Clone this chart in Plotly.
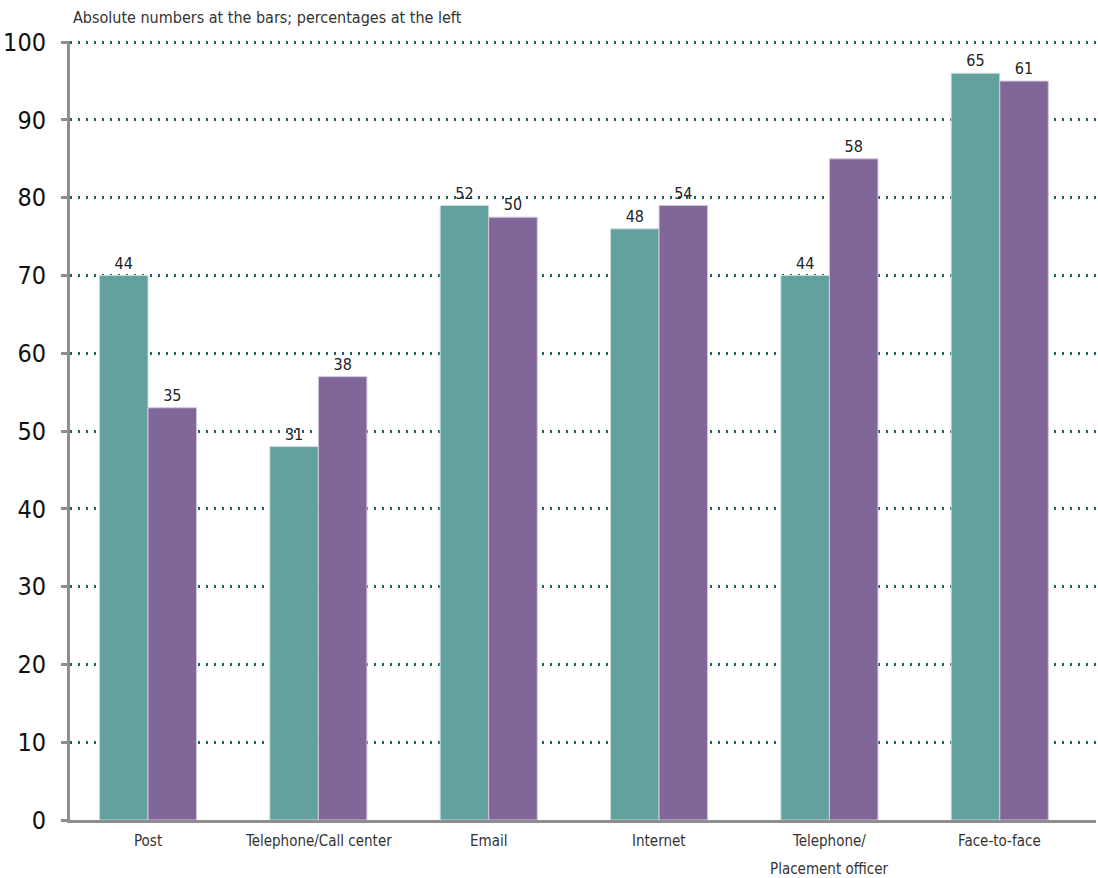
import plotly.graph_objects as go

# Contact channels (x categories); multi-line labels split on "\n"
categories = ["Post", "Telephone/Call center", "Email", "Internet",
              "Telephone/\nPlacement officer", "Face-to-face"]

# Percentages (bar heights) and absolute counts (labels above the bars)
teal_pct = [70, 48, 79, 76, 70, 96]
teal_abs = [44, 31, 52, 48, 44, 65]
purple_pct = [53, 57, 77.5, 79, 85, 95]
purple_abs = [35, 38, 50, 54, 58, 61]

y_ticks = [0, 10, 20, 30, 40, 50, 60, 70, 80, 90, 100]

FONT = "Liberation Sans Narrow, Arial Narrow, DejaVu Sans Condensed, sans-serif"
TEAL = "#62a19d"
PURPLE = "#816799"
AXIS_GREY = "#8e8e8e"
GRID = "#1d625e"

x_idx = list(range(len(categories)))

fig = go.Figure()
fig.add_trace(go.Bar(
    x=x_idx, y=teal_pct, text=teal_abs, textposition="outside",
    marker=dict(color=TEAL, line=dict(color="#c9dedc", width=1)),
    textfont=dict(family=FONT, size=16, color="#222222"),
    cliponaxis=False, showlegend=False,
))
fig.add_trace(go.Bar(
    x=x_idx, y=purple_pct, text=purple_abs, textposition="outside",
    marker=dict(color=PURPLE, line=dict(color="#d2c8dc", width=1)),
    textfont=dict(family=FONT, size=16, color="#222222"),
    cliponaxis=False, showlegend=False,
))

# Category labels under the axis, one annotation per text line
annotations = []
for i, label in enumerate(categories):
    for j, line in enumerate(label.split("\n")):
        annotations.append(dict(
            x=i, y=0, xref="x", yref="y", text=line, showarrow=False,
            xanchor="center", yanchor="top", yshift=-10 - 28 * j,
            font=dict(family=FONT, size=15, color="#333333"),
        ))

annotations.append(dict(
    x=0, y=1, xref="paper", yref="paper", xshift=1, yshift=12,
    text="Absolute numbers at the bars; percentages at the left",
    showarrow=False, xanchor="left", yanchor="bottom",
    font=dict(family=FONT, size=16, color="#333333"),
))

fig.update_layout(
    width=1098, height=878,
    margin=dict(l=70, r=2, t=41, b=58),
    paper_bgcolor="white", plot_bgcolor="white",
    barmode="group", bargap=0.43, bargroupgap=0,
    annotations=annotations,
    font=dict(family=FONT),
)
fig.update_xaxes(
    range=[-0.458, 5.565], showticklabels=False, showgrid=False,
    showline=True, linecolor=AXIS_GREY, linewidth=3, zeroline=False,
    ticks="",
)
fig.update_yaxes(
    range=[0, 100.15], tickvals=y_ticks, ticks="outside", ticklen=6,
    tickwidth=3, tickcolor=AXIS_GREY, showline=True, linecolor=AXIS_GREY,
    linewidth=3, showgrid=True, gridcolor=GRID, gridwidth=2.5,
    griddash="2px,6px", zeroline=False, ticklabelstandoff=10,
    tickfont=dict(family=FONT, size=25, color="#111111"),
)

fig.write_html("out.html")
